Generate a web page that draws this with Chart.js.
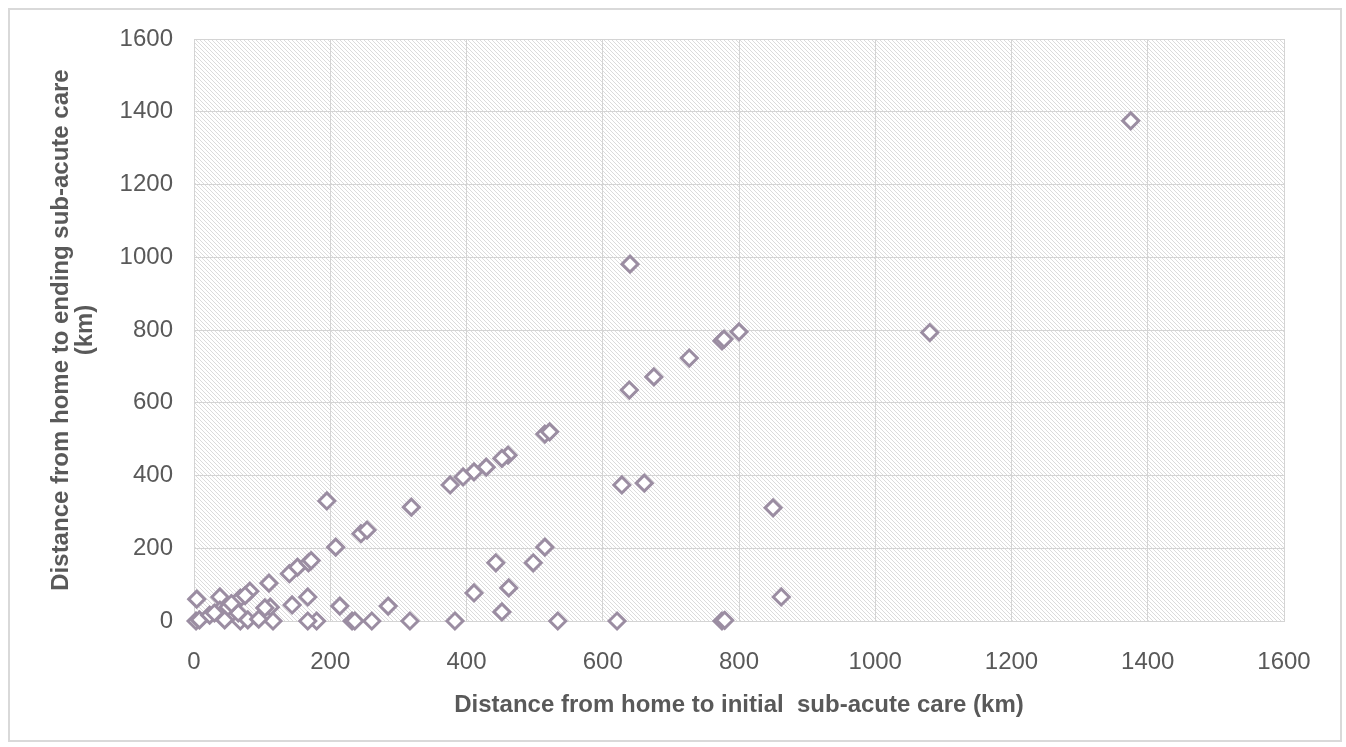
<!DOCTYPE html>
<html>
<head>
<meta charset="utf-8">
<script src="https://cdn.jsdelivr.net/npm/chart.js@4.4.1/dist/chart.umd.min.js"></script>
<style>
  html, body { margin: 0; padding: 0; background: #ffffff; }
  #wrap { position: absolute; left: 8px; top: 8px; width: 1330px; height: 730px; border: 2px solid #d9d9d9; background: #fff; }
  canvas { display: block; }
</style>
</head>
<body>
<div id="wrap"><canvas id="c" width="1330" height="730"></canvas></div>
<script>
// Distance from home to initial sub-acute care (km)
const initialKm = [1375, 640, 800, 1080, 775, 778, 727, 675, 639, 515, 522, 461, 452, 429, 411, 395, 376, 628, 661, 850,
  319, 195, 208, 245, 254, 443, 515, 498, 462, 411, 452, 862, 383, 534, 621, 775, 779, 317, 285, 214,
  232, 236, 261, 180, 167, 167, 144, 140, 152, 168, 172, 110, 112, 104, 116, 82, 68, 38, 4, 3,
  8, 23, 38, 50, 45, 68, 65, 79, 55, 30, 75, 95];
// Distance from home to ending sub-acute care (km)
const endingKm = [1375, 981, 795, 793, 770, 775, 723, 671, 635, 514, 520, 456, 447, 423, 410, 396, 374, 374, 379, 311,
  313, 330, 203, 240, 250, 160, 203, 160, 91, 77, 25, 66, 0, 0, 0, 0, 2, 0, 41, 41,
  0, 0, 0, 0, 0, 66, 44, 130, 148, 160, 166, 104, 38, 36, 0, 82, 63, 66, 60, 0,
  3, 16, 30, 38, 3, 0, 22, 3, 48, 22, 70, 5];
const axisTicks = [0, 200, 400, 600, 800, 1000, 1200, 1400, 1600];
const xTitle = 'Distance from home to initial  sub-acute care (km)';
const yTitle = ['Distance from home to ending sub-acute care', '(km)'];

const points = initialKm.map((x, i) => ({ x: x, y: endingKm[i] }));

const hatch = document.createElement('canvas');
hatch.width = 4; hatch.height = 4;
const hc = hatch.getContext('2d');
hc.fillStyle = '#ffffff'; hc.fillRect(0, 0, 4, 4);
hc.fillStyle = '#dbdbdb';
for (let i = 0; i < 4; i++) hc.fillRect(i, i, 1, 1);

const hatchPlugin = {
  id: 'hatchBg',
  beforeDraw(chart) {
    const a = chart.chartArea, ctx = chart.ctx;
    ctx.save();
    ctx.fillStyle = ctx.createPattern(hatch, 'repeat');
    ctx.fillRect(a.left, a.top, a.right - a.left, a.bottom - a.top);
    ctx.restore();
  }
};

const tickFont = { family: '"Liberation Sans", Arial, sans-serif', size: 24 };
const titleFont = { family: '"Liberation Sans", Arial, sans-serif', size: 24, weight: 'bold', lineHeight: 1.0 };
const gridCol = '#d4d4d4';
const plainNum = v => String(v);

new Chart(document.getElementById('c'), {
  type: 'scatter',
  data: {
    datasets: [{
      data: points,
      pointStyle: 'rectRot',
      pointRadius: 8,
      pointHoverRadius: 8,
      borderColor: '#9b8da2',
      backgroundColor: '#ffffff',
      pointBorderWidth: 3,
      clip: false
    }]
  },
  options: {
    responsive: false,
    animation: false,
    events: [],
    layout: { padding: { top: 29, right: 56, left: 0, bottom: 0 } },
    plugins: { legend: { display: false }, tooltip: { enabled: false } },
    scales: {
      x: {
        type: 'linear', min: 0, max: 1600,
        afterBuildTicks(s) { s.ticks = axisTicks.map(v => ({ value: v })); },
        afterFit(s) { s.height = 119; s.paddingLeft = 0; s.paddingRight = 0; },
        ticks: { font: tickFont, color: '#595959', padding: 27, maxRotation: 0, callback: plainNum },
        grid: { color: gridCol, lineWidth: 1, drawTicks: false },
        border: { color: gridCol, width: 1 },
        title: { display: true, text: xTitle, font: titleFont, color: '#595959', padding: { top: 0, bottom: 23 } }
      },
      y: {
        type: 'linear', min: 0, max: 1600,
        afterBuildTicks(s) { s.ticks = axisTicks.map(v => ({ value: v })); },
        afterFit(s) { s.width = 184; s.paddingTop = 0; s.paddingBottom = 0; },
        ticks: { font: tickFont, color: '#595959', padding: 21, callback: plainNum },
        grid: { color: gridCol, lineWidth: 1, drawTicks: false },
        border: { color: gridCol, width: 1 },
        title: { display: true, text: yTitle, font: titleFont, color: '#595959', padding: { top: 39, bottom: 0 } }
      }
    }
  },
  plugins: [hatchPlugin]
});
</script>
</body>
</html>
